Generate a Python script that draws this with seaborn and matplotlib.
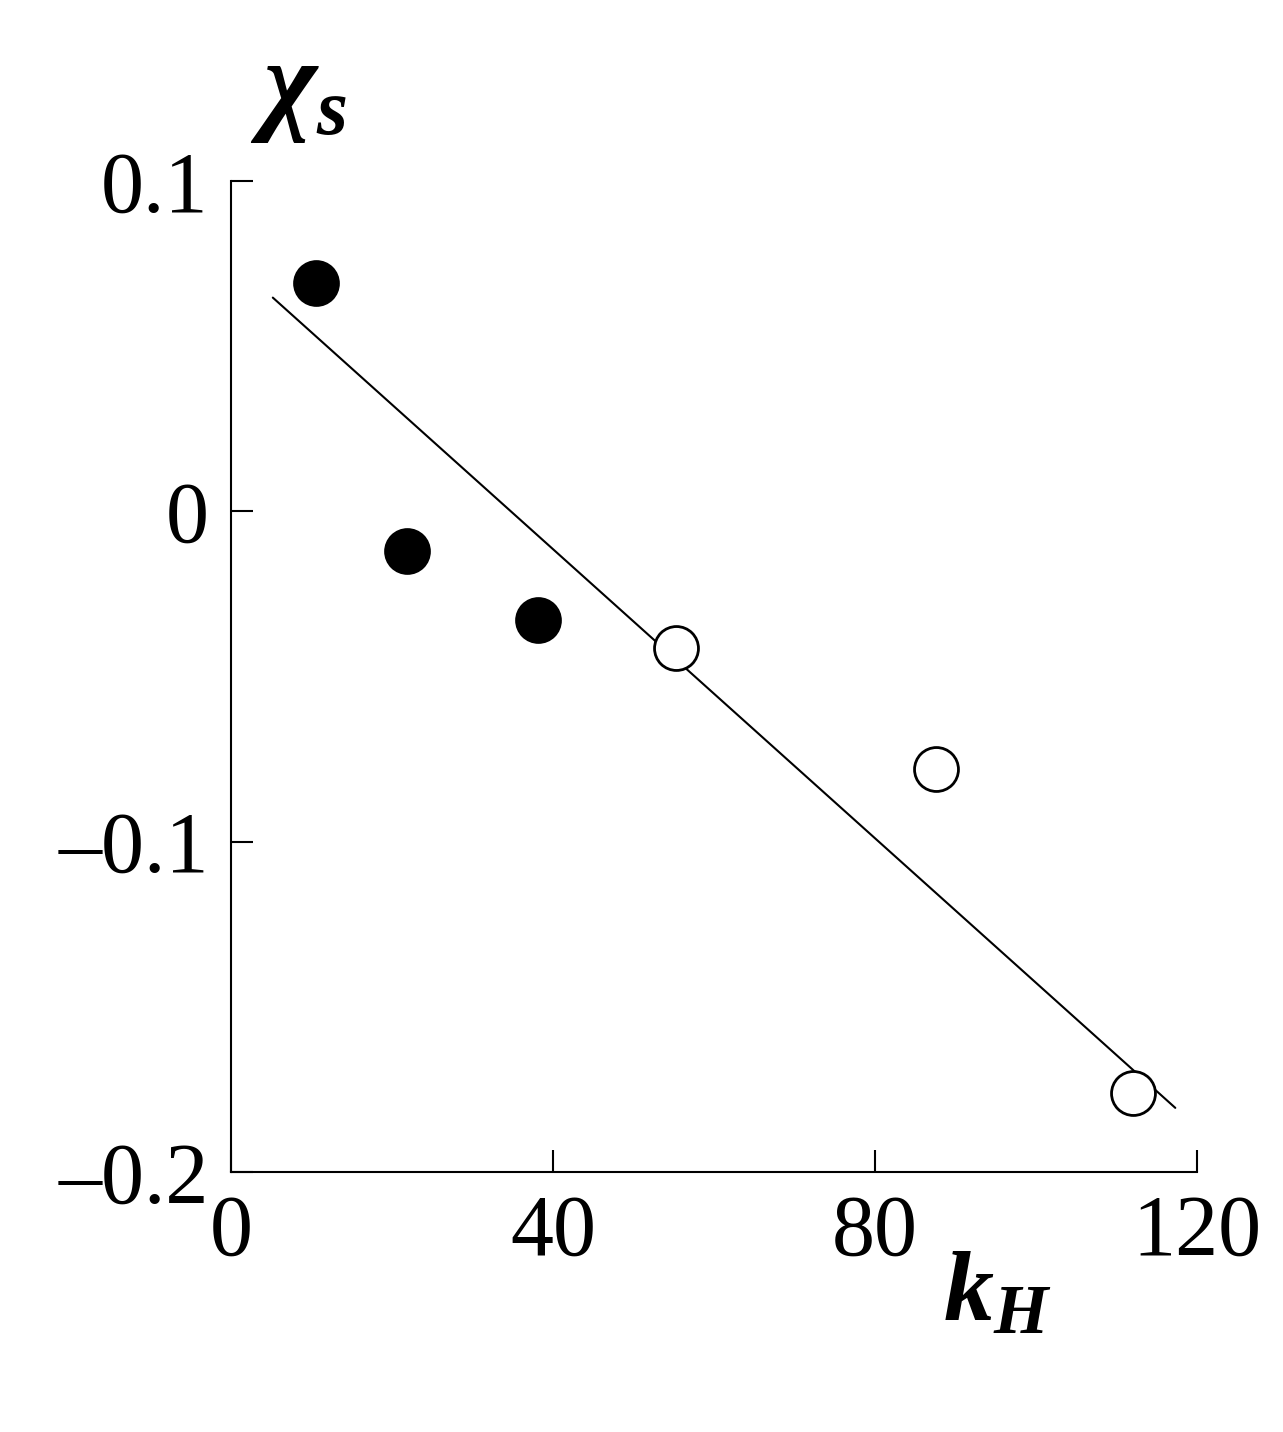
import numpy as np
import pandas as pd
import matplotlib
matplotlib.use("Agg")
import matplotlib.pyplot as plt
from matplotlib.ticker import FuncFormatter
import seaborn as sns

# data
filled_k = [10.6, 21.9, 38.1]
filled_chi = [0.069, -0.012, -0.033]
open_k = [55.3, 87.6, 112.0]
open_chi = [-0.0415, -0.078, -0.176]
fit_k = [5.2, 117.3]
fit_chi = [0.0647, -0.1806]

sns.set_style("ticks")
plt.rcParams['font.family'] = ['Liberation Serif', 'DejaVu Serif']
plt.rcParams['mathtext.fontset'] = 'custom'
plt.rcParams['mathtext.it'] = 'Liberation Serif:bold:italic'
plt.rcParams['mathtext.bf'] = 'Liberation Serif:bold:italic'
plt.rcParams['mathtext.rm'] = 'Liberation Serif'
plt.rcParams['text.color'] = 'black'

fig = plt.figure(figsize=(12.83, 14.32), dpi=100)
ax = fig.add_axes([0.18, 0.1816, 0.753, 0.692])

df_f = pd.DataFrame({'k': filled_k, 'chi': filled_chi})
df_o = pd.DataFrame({'k': open_k, 'chi': open_chi})
df_l = pd.DataFrame({'k': fit_k, 'chi': fit_chi})

sns.lineplot(data=df_l, x='k', y='chi', ax=ax, color='black', linewidth=1.5)
sns.scatterplot(data=df_f, x='k', y='chi', ax=ax, s=1000, color='black',
                edgecolor='black', linewidth=2, zorder=3, clip_on=False)
sns.scatterplot(data=df_o, x='k', y='chi', ax=ax, s=1000, facecolor='white',
                edgecolor='black', linewidth=2, zorder=3, clip_on=False)

ax.set_xlim(0, 120)
ax.set_ylim(-0.2, 0.1)
ax.set_xticks([0, 40, 80, 120])
ax.set_yticks([-0.2, -0.1, 0, 0.1])
ax.xaxis.set_major_formatter(FuncFormatter(lambda v, p: f"{v:g}"))
ax.yaxis.set_major_formatter(FuncFormatter(
    lambda v, p: "0" if abs(v) < 1e-9 else f"{v:g}".replace("-", "\u2013")))
ax.tick_params(direction='in', length=16, width=1.5, labelsize=62, pad=16,
               colors='black')
for s in ['top', 'right']:
    ax.spines[s].set_visible(False)
for s in ['left', 'bottom']:
    ax.spines[s].set_linewidth(1.5)
    ax.spines[s].set_color('black')
ax.set_xlabel('')
ax.set_ylabel('')

fig.text(0.195, 0.935, r'$\chi_s$', fontsize=82, ha='left', va='center')
fig.text(0.735, 0.095, r'$\mathbf{k_H}$', fontsize=72, ha='left', va='center')

fig.savefig('out.png', dpi=100, facecolor='white')
